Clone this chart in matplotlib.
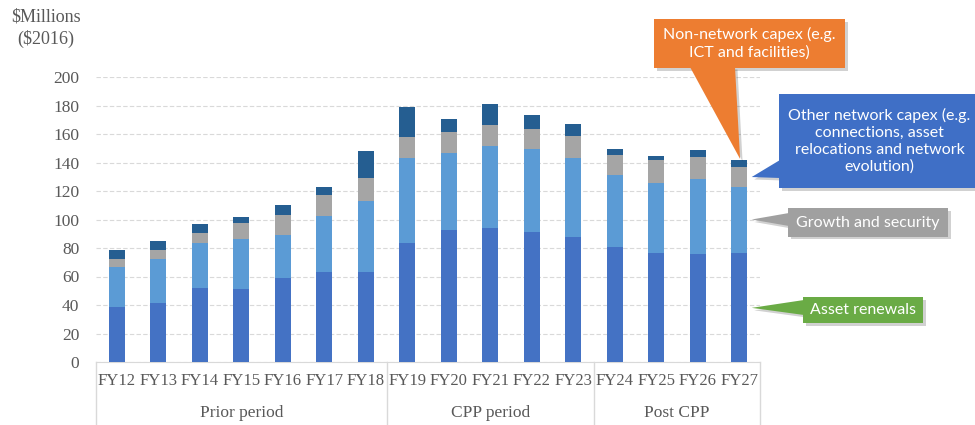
import numpy as np
import matplotlib.pyplot as plt
from matplotlib.patches import Polygon, Rectangle
from matplotlib.transforms import blended_transform_factory

# DATA ($M, $2016)
years = ["FY12", "FY13", "FY14", "FY15", "FY16", "FY17", "FY18", "FY19",
         "FY20", "FY21", "FY22", "FY23", "FY24", "FY25", "FY26", "FY27"]
asset_renewals = [38.8, 41.6, 52.2, 51.5, 58.7, 63.4, 63.4, 83.3,
                  92.6, 93.8, 91.2, 87.9, 80.5, 76.7, 76.0, 76.7]
growth_security = [27.6, 30.4, 31.5, 35.0, 30.4, 39.3, 49.8, 60.1,
                   54.1, 57.6, 58.0, 55.5, 51.0, 48.9, 52.2, 46.3]
other_network = [6.1, 6.4, 6.5, 11.3, 14.3, 14.7, 15.8, 14.5,
                 14.5, 15.2, 14.5, 15.2, 13.8, 15.9, 15.4, 13.6]
non_network = [6.1, 6.6, 6.4, 4.0, 6.6, 5.6, 19.0, 20.8,
               9.3, 14.4, 9.6, 8.6, 3.9, 3.3, 4.9, 5.4]

periods = ["Prior period", "CPP period", "Post CPP"]
period_sizes = [7, 5, 4]

# COLOURS
c_renew = "#4472C4"
c_growth = "#5B9BD5"
c_other = "#A5A5A5"
c_nonnet = "#255E91"
txt_gray = "#595959"
line_gray = "#D9D9D9"

W, H = 975, 425
fig = plt.figure(figsize=(W / 100, H / 100), dpi=100)
ax = fig.add_axes([96 / W, 1 - 362 / H, (760 - 96) / W, (362 - 77) / H])

serif = "Liberation Serif"

x = np.arange(len(years))
bw = 0.385
series = [asset_renewals, growth_security, other_network, non_network]
colors = [c_renew, c_growth, c_other, c_nonnet]
bottom = np.zeros(len(years))
for vals, col in zip(series, colors):
    ax.bar(x, vals, bw, bottom=bottom, color=col, zorder=3)
    bottom += np.array(vals)
totals = bottom.copy()

ax.set_xlim(-0.5, len(years) - 0.5)
ax.set_ylim(0, 200)
ax.set_yticks(range(0, 201, 20))
ax.grid(axis="y", color=line_gray, linestyle=(0, (4, 2)), linewidth=0.8, zorder=0)
for s in ["top", "right", "left"]:
    ax.spines[s].set_visible(False)
ax.spines["bottom"].set_color(line_gray)
ax.tick_params(axis="y", length=0, pad=12, labelcolor=txt_gray, labelsize=12.5)
ax.tick_params(axis="x", length=0, pad=8, labelcolor=txt_gray, labelsize=12)
ax.set_xticks(x, years)
for lab in ax.get_xticklabels() + ax.get_yticklabels():
    lab.set_fontfamily(serif)

# multi-level category axis
trans = blended_transform_factory(ax.transData, ax.transAxes)
edges = np.concatenate([[0], np.cumsum(period_sizes)]) - 0.5
for e in edges:
    ax.plot([e, e], [0, -0.222], transform=trans, color=line_gray,
            linewidth=1, clip_on=False)
for name, a, b in zip(periods, edges[:-1], edges[1:]):
    ax.text((a + b) / 2, -0.179, name, transform=trans, ha="center", va="center",
            fontsize=12.5, color=txt_gray, fontfamily=serif)

fig.text(46 / W, 1 - 28 / H, "$Millions\n($2016)", ha="center", va="center",
         fontsize=13, color=txt_gray, fontfamily=serif, linespacing=1.3)


# CALLOUTS
def px(xp, yp):
    return (xp / W, 1 - yp / H)


def tip_from(xd, yd):
    d = ax.transData.transform((xd, yd))
    return tuple(fig.transFigure.inverted().transform(d))


def callout(box, base, tip, color, text, fs):
    x0, y0, x1, y1 = box
    rect = [px(x0, y0), px(x1, y0), px(x1, y1), px(x0, y1)]
    tri = [px(*base[0]), tip, px(*base[1])]
    for dx, dy, col, al in [(2.5 / W, -2.5 / H, "#000000", 0.18), (0, 0, color, 1)]:
        for shape in (rect, tri):
            pts = [(p[0] + dx, p[1] + dy) for p in shape]
            fig.add_artist(Polygon(pts, closed=True, transform=fig.transFigure,
                                   facecolor=col, edgecolor="none", alpha=al))
    fig.text((x0 + x1) / 2 / W, 1 - (y0 + y1) / 2 / H, text, ha="center",
             va="center", color="white", fontsize=fs, fontfamily="Lato",
             linespacing=1.25)


last = len(years) - 1
callout((654, 19, 845, 68), [(690, 67), (735, 67)], tip_from(last + 0.02, totals[last] + 0.5),
        "#ED7D31", "Non-network capex (e.g.\nICT and facilities)", 11.5)
mid_other = asset_renewals[last] + growth_security[last] + other_network[last] / 2
callout((779, 94, 980, 188), [(780, 160), (780, 178)], tip_from(last + 0.3, mid_other),
        "#3F6FC6", "Other network capex (e.g.\nconnections, asset\nrelocations and network\nevolution)", 11.5)
callout((788, 208, 948, 237), [(789, 213), (789, 226)], tip_from(last + 0.3, 100),
        "#A0A0A0", "Growth and security", 11.5)
callout((803, 297, 923, 323), [(804, 300), (804, 315)], tip_from(last + 0.3, 38),
        "#6AAB45", "Asset renewals", 11.5)

fig.savefig("out.png", dpi=100)
